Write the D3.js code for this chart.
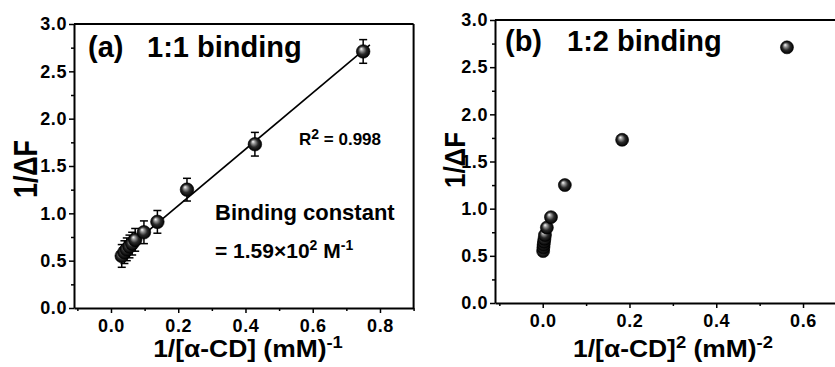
<!DOCTYPE html>
<html><head><meta charset="utf-8">
<script src="https://cdn.jsdelivr.net/npm/d3@7"></script>
<style>
html,body{margin:0;padding:0;background:#fff;}
svg{display:block;font-family:"Liberation Sans",Arial,sans-serif;}
</style></head>
<body>
<svg id="chart" width="835" height="367"></svg>
<script>
// ---- data ----
const invCD   = [0.032, 0.040, 0.047, 0.055, 0.063, 0.072, 0.098, 0.138, 0.226, 0.428, 0.750];
const invDF   = [0.55, 0.59, 0.62, 0.65, 0.68, 0.72, 0.80, 0.91, 1.25, 1.73, 2.71];
const errDF   = [0.12, 0.12, 0.12, 0.12, 0.12, 0.12, 0.12, 0.12, 0.12, 0.125, 0.125];
const invCDsq = [0.001, 0.0016, 0.0022, 0.003, 0.004, 0.0052, 0.0096, 0.019, 0.051, 0.183, 0.563];
const fitSlope = 2.98, fitIntercept = 0.485;
const fitRange = [0.03, 0.77];
const yTicks  = [0, 0.5, 1.0, 1.5, 2.0, 2.5, 3.0];
const yMinor  = [0.25, 0.75, 1.25, 1.75, 2.25, 2.75];
const xTicksA = [0, 0.2, 0.4, 0.6, 0.8];
const xMinorA = [-0.1, 0.1, 0.3, 0.5, 0.7, 0.9];
const xTicksB = [0, 0.2, 0.4, 0.6];
const xMinorB = [-0.1, 0.1, 0.3, 0.5, 0.7];

const svg = d3.select("#chart");
const defs = svg.append("defs");
const grad = defs.append("radialGradient").attr("id","ball")
  .attr("cx","50%").attr("cy","50%").attr("r","50%").attr("fx","35%").attr("fy","30%");
grad.append("stop").attr("offset","0%").attr("stop-color","#ffffff");
grad.append("stop").attr("offset","25%").attr("stop-color","#9a9a9a");
grad.append("stop").attr("offset","60%").attr("stop-color","#2a2a2a");
grad.append("stop").attr("offset","100%").attr("stop-color","#000000");

const fmt = d3.format(".1f");
const styleTicks = s => s.selectAll("text")
  .style("font-family","'Liberation Sans', Arial, sans-serif")
  .style("font-weight","bold").style("font-size","18px").style("letter-spacing","0.6px")
  .attr("fill","#000");

function panel(cfg){
  const g = svg.append("g");
  const x = d3.scaleLinear().domain(cfg.xDomain).range(cfg.xRange);
  const y = d3.scaleLinear().domain([0,3]).range(cfg.yRange);
  const [x0,x1] = cfg.xRange, [y0,y1] = cfg.yRange;
  g.append("line").attr("x1",x0).attr("x2",x1).attr("y1",y1).attr("y2",y1).attr("stroke","#000").attr("stroke-width",2);
  g.append("line").attr("x1",x1).attr("x2",x1).attr("y1",y1).attr("y2",y0).attr("stroke","#000").attr("stroke-width",2);
  g.append("g").attr("transform",`translate(0,${y0})`)
    .call(d3.axisBottom(x).tickValues(cfg.xMinor).tickSize(3).tickFormat("").tickSizeOuter(0))
    .call(s=>{s.select(".domain").remove(); s.selectAll("line").attr("stroke-width",1.5);});
  g.append("g").attr("transform",`translate(${x0},0)`)
    .call(d3.axisLeft(y).tickValues(yMinor).tickSize(3).tickFormat("").tickSizeOuter(0))
    .call(s=>{s.select(".domain").remove(); s.selectAll("line").attr("stroke-width",1.5);});
  g.append("g").attr("transform",`translate(0,${y0})`)
    .call(d3.axisBottom(x).tickValues(cfg.xTicks).tickSize(5).tickPadding(6).tickFormat(fmt).tickSizeOuter(0))
    .call(s=>{s.select(".domain").attr("stroke-width",2); s.selectAll("line").attr("stroke-width",1.5);})
    .call(styleTicks);
  g.append("g").attr("transform",`translate(${x0},0)`)
    .call(d3.axisLeft(y).tickValues(yTicks).tickSize(5).tickPadding(2).tickFormat(fmt).tickSizeOuter(0))
    .call(s=>{s.select(".domain").attr("stroke-width",2); s.selectAll("line").attr("stroke-width",1.5);})
    .call(styleTicks);
  return {g,x,y};
}

const bold = (sel)=>sel.attr("font-weight","bold").attr("fill","#000");

// ---- panel (a) ----
const A = panel({xDomain:[-0.11,0.9], xRange:[74,413.6], yRange:[308,24],
                 xTicks:xTicksA, xMinor:xMinorA});
A.g.append("line")
  .attr("x1",A.x(fitRange[0])).attr("y1",A.y(fitSlope*fitRange[0]+fitIntercept))
  .attr("x2",A.x(fitRange[1])).attr("y2",A.y(fitSlope*fitRange[1]+fitIntercept))
  .attr("stroke","#000").attr("stroke-width",1.6);
const ptsA = invCD.map((v,i)=>({x:v,y:invDF[i],e:errDF[i]}));
const eb = A.g.append("g").attr("stroke","#000").attr("stroke-width",1.5);
ptsA.forEach(d=>{
  const cx=A.x(d.x), yt=A.y(d.y+d.e), yb=A.y(d.y-d.e);
  eb.append("line").attr("x1",cx).attr("x2",cx).attr("y1",yt).attr("y2",yb);
  eb.append("line").attr("x1",cx-4).attr("x2",cx+4).attr("y1",yt).attr("y2",yt);
  eb.append("line").attr("x1",cx-4).attr("x2",cx+4).attr("y1",yb).attr("y2",yb);
});
A.g.selectAll("circle.pa").data(ptsA).join("circle").attr("class","pa")
  .attr("cx",d=>A.x(d.x)).attr("cy",d=>A.y(d.y)).attr("r",6.8)
  .attr("fill","url(#ball)").attr("stroke","#000").attr("stroke-width",0.6);

bold(A.g.append("text").attr("x",88).attr("y",57).attr("font-size",29).text("(a)"));
bold(A.g.append("text").attr("x",147).attr("y",57).attr("font-size",29).text("1:1 binding"));
const r2 = A.g.append("text").attr("x",299).attr("y",145).attr("font-size",17).attr("font-weight","bold");
r2.append("tspan").text("R");
r2.append("tspan").attr("dy",-6).attr("font-size",14).text("2");
r2.append("tspan").attr("dy",6).text(" = 0.998");
bold(A.g.append("text").attr("x",215).attr("y",220).attr("font-size",22).text("Binding constant"));
const bc = bold(A.g.append("text").attr("x",215).attr("y",258).attr("font-size",21));
bc.append("tspan").text("= 1.59×10");
bc.append("tspan").attr("dy",-8).attr("font-size",14).text("2");
bc.append("tspan").attr("dy",8).text(" M");
bc.append("tspan").attr("dy",-8).attr("font-size",14).text("-1");
const xtA = bold(A.g.append("text").attr("transform","translate(248,357) scale(1.15,1)")
  .attr("text-anchor","middle").attr("font-size",23));
xtA.append("tspan").text("1/[α-CD] (mM)");
xtA.append("tspan").attr("dy",-9).attr("font-size",16).text("-1");
bold(A.g.append("text").attr("transform","translate(37,169) rotate(-90)").attr("text-anchor","middle")
  .attr("font-size",33).attr("textLength",58).attr("lengthAdjust","spacingAndGlyphs").text("1/ΔF"));

// ---- panel (b) ----
const B = panel({xDomain:[-0.11,0.7], xRange:[495,846.4], yRange:[303,20],
                 xTicks:xTicksB, xMinor:xMinorB});
const ptsB = invCDsq.map((v,i)=>({x:v,y:invDF[i]}));
B.g.selectAll("circle.pb").data(ptsB).join("circle").attr("class","pb")
  .attr("cx",d=>B.x(d.x)).attr("cy",d=>B.y(d.y)).attr("r",6.5)
  .attr("fill","url(#ball)").attr("stroke","#000").attr("stroke-width",0.6);
bold(B.g.append("text").attr("x",505).attr("y",51).attr("font-size",29).text("(b)"));
bold(B.g.append("text").attr("x",567).attr("y",51).attr("font-size",29).text("1:2 binding"));
const xtB = bold(B.g.append("text").attr("transform","translate(673,357) scale(1.15,1)")
  .attr("text-anchor","middle").attr("font-size",23));
xtB.append("tspan").text("1/[α-CD]");
xtB.append("tspan").attr("dy",-9).attr("font-size",16).text("2");
xtB.append("tspan").attr("dy",9).text(" (mM)");
xtB.append("tspan").attr("dy",-9).attr("font-size",16).text("-2");
bold(B.g.append("text").attr("transform","translate(465,160) rotate(-90)").attr("text-anchor","middle")
  .attr("font-size",29).attr("textLength",56).attr("lengthAdjust","spacingAndGlyphs").text("1/ΔF"));
</script>
</body></html>
